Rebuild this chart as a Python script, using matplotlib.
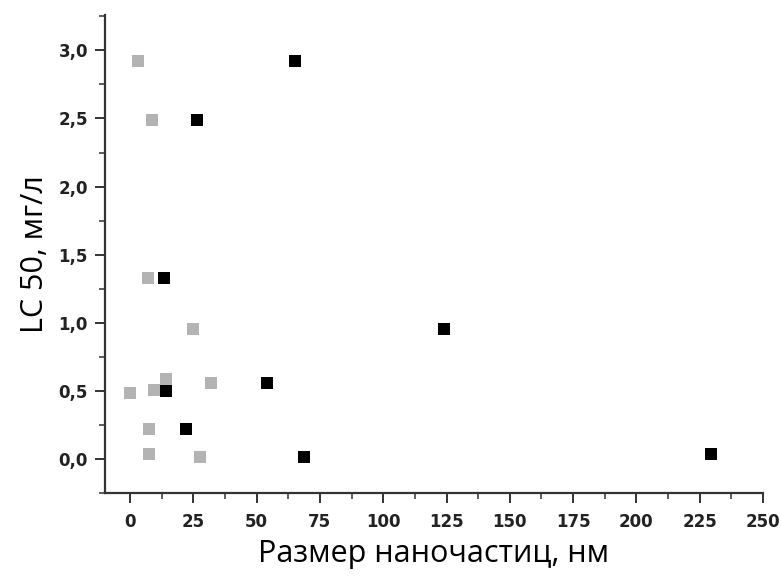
import matplotlib
matplotlib.use("Agg")
from matplotlib import pyplot as plt
from matplotlib.ticker import MultipleLocator, FuncFormatter

# light gray series
gray_x = [3.2, 8.7, 7.1, 24.9, 0.0, 9.5, 14.2, 32.0, 7.5, 7.5, 27.6]
gray_y = [2.92, 2.49, 1.33, 0.956, 0.485, 0.51, 0.59, 0.56, 0.22, 0.04, 0.015]

# black series
black_x = [65.2, 26.5, 13.4, 124.0, 14.2, 54.0, 22.0, 68.7, 229.5]
black_y = [2.92, 2.49, 1.33, 0.956, 0.50, 0.56, 0.22, 0.015, 0.04]

fig = plt.figure(figsize=(7.81, 5.76), dpi=100)
ax = fig.add_axes([0.134, 0.144, 0.843, 0.830])

ax.scatter(gray_x, gray_y, marker='s', s=72, color='#b3b3b3', linewidths=0, zorder=3)
ax.scatter(black_x, black_y, marker='s', s=72, color='black', linewidths=0, zorder=4)

ax.set_xlim(-10, 250)
ax.set_ylim(-0.25, 3.26)

ax.spines['top'].set_visible(False)
ax.spines['right'].set_visible(False)
for s in ['left', 'bottom']:
    ax.spines[s].set_linewidth(1.6)
    ax.spines[s].set_color('#333333')

ax.xaxis.set_major_locator(MultipleLocator(25))
ax.xaxis.set_minor_locator(MultipleLocator(12.5))
ax.yaxis.set_major_locator(MultipleLocator(0.5))
ax.yaxis.set_minor_locator(MultipleLocator(0.25))
ax.yaxis.set_major_formatter(FuncFormatter(lambda v, p: f"{v:.1f}".replace('.', ',')))

ax.tick_params(which='major', direction='out', length=7, width=1.4, color='#333333',
               labelsize=12, labelcolor='#222222')
ax.tick_params(axis='x', which='major', pad=7)
ax.tick_params(axis='y', which='major', pad=5)
ax.tick_params(which='minor', direction='out', length=4, width=1.1, color='#333333')
for lab in ax.get_xticklabels() + ax.get_yticklabels():
    lab.set_family('DejaVu Sans')
    lab.set_fontweight('bold')

ax.set_xlabel('Размер наночастиц, нм', fontsize=22, family='Open Sans', labelpad=6)
ax.set_ylabel('LC 50, мг/л', fontsize=22, family='Open Sans', labelpad=6)

fig.savefig('out.png', dpi=100)
